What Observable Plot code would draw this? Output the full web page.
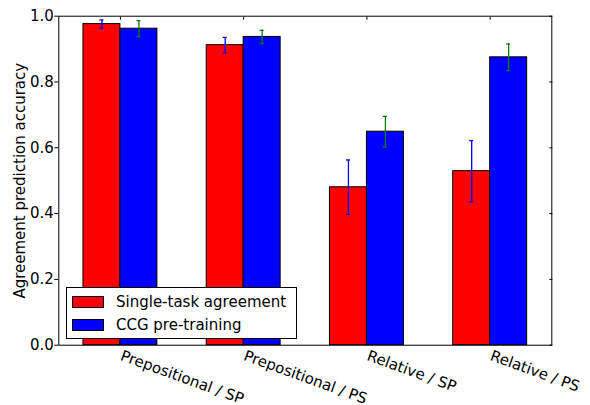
<!DOCTYPE html>
<html>
<head>
<meta charset="utf-8">
<script src="https://cdn.jsdelivr.net/npm/d3@7"></script>
<script src="https://cdn.jsdelivr.net/npm/@observablehq/plot@0.6"></script>
<style>
  html, body { margin: 0; padding: 0; background: #fff; }
  #wrap { position: relative; width: 590px; height: 405px; font-family: "DejaVu Sans", sans-serif; }
  #legend { position: absolute; left: 66px; top: 287px; width: 229px; height: 50px; border: 1px solid #000; background: #fff; box-sizing: content-box; }
  .item { position: absolute; left: 5px; height: 13px; display: flex; align-items: center; font-size: 15px; color: #000; white-space: nowrap; }
  .sw { width: 30px; height: 10px; border: 1px solid #000; margin-right: 12px; flex: none; }
</style>
</head>
<body>
<div id="wrap"></div>
<script>
const categories = ["Prepositional / SP", "Prepositional / PS", "Relative / SP", "Relative / PS"];
const seriesNames = ["Single-task agreement", "CCG pre-training"];
const seriesColors = ["#ff0000", "#0000ff"];
const errColors = ["#0000ff", "#008000"];
const singleTask = [0.976, 0.912, 0.480, 0.529];
const singleTaskErr = [0.0125, 0.0235, 0.083, 0.093];
const ccgPretraining = [0.962, 0.937, 0.649, 0.875];
const ccgPretrainingErr = [0.0245, 0.020, 0.0465, 0.0405];
const yTicks = [0, 0.2, 0.4, 0.6, 0.8, 1.0];
const yLabel = "Agreement prediction accuracy";

const barWidth = 0.3;
const values = [singleTask, ccgPretraining];
const errs = [singleTaskErr, ccgPretrainingErr];
const rows = categories.flatMap((c, i) => [0, 1].map(s => ({
  cat: c, i, s,
  x1: i - barWidth + s * barWidth,
  x2: i + s * barWidth,
  xc: i - barWidth / 2 + s * barWidth,
  v: values[s][i],
  lo: values[s][i] - errs[s][i],
  hi: values[s][i] + errs[s][i]
})));
const ticksX = categories.map((c, i) => ({i, c}));
const fmt = d3.format(".1f");

const chart = Plot.plot({
  width: 590,
  height: 405,
  marginLeft: 58.3,
  marginRight: 38.7,
  marginTop: 15.7,
  marginBottom: 60.3,
  style: { fontFamily: "DejaVu Sans, sans-serif", background: "#fff", overflow: "visible", color: "#000" },
  x: { domain: [-0.5, categories.length - 0.5] },
  y: { domain: [0, 1] },
  marks: [
    Plot.rectY(rows, { x1: "x1", x2: "x2", y1: 0, y2: "v", fill: d => seriesColors[d.s], stroke: "#000", strokeWidth: 1 }),
    Plot.ruleX(rows, { x: "xc", y1: "lo", y2: "hi", stroke: d => errColors[d.s], strokeWidth: 1.3 }),
    Plot.ruleY(rows, { y: "lo", x1: "xc", x2: "xc", insetLeft: -2, insetRight: -2, stroke: d => errColors[d.s], strokeWidth: 1.3 }),
    Plot.ruleY(rows, { y: "hi", x1: "xc", x2: "xc", insetLeft: -2, insetRight: -2, stroke: d => errColors[d.s], strokeWidth: 1.3 }),
    Plot.frame({ stroke: "#000", strokeWidth: 1 }),
    Plot.axisY({ ticks: yTicks, tickSize: 4, tickFormat: () => "", label: null, stroke: "#000" }),
    Plot.text(yTicks, { frameAnchor: "left", y: d => d, text: d => fmt(d), textAnchor: "end", lineAnchor: "middle", dx: -5, fontSize: 15, fill: "#000" }),
    Plot.axisY({ anchor: "right", ticks: yTicks, tickSize: -3, tickFormat: () => "", label: null }),
    Plot.axisX({ anchor: "top", ticks: categories.map((c, i) => i), tickSize: -3, tickFormat: () => "", label: null }),
    Plot.text(ticksX, { x: "i", y: 0, text: "c", rotate: 20, textAnchor: "start", lineAnchor: "top", dx: 2.7, dy: 4.5, fontSize: 15, fill: "#000" }),
    Plot.text([yLabel], { frameAnchor: "left", text: d => d, rotate: -90, textAnchor: "middle", lineAnchor: "middle", dx: -38.8, dy: 0, fontSize: 15, fill: "#000" })
  ]
});
document.getElementById("wrap").appendChild(chart);

const legend = document.createElement("div");
legend.id = "legend";
seriesNames.forEach((name, k) => {
  const item = document.createElement("div");
  item.className = "item";
  item.style.top = (k === 0 ? 7 : 30) + "px";
  const sw = document.createElement("div");
  sw.className = "sw";
  sw.style.background = seriesColors[k];
  const t = document.createElement("span");
  t.textContent = name;
  item.appendChild(sw);
  item.appendChild(t);
  legend.appendChild(item);
});
document.getElementById("wrap").appendChild(legend);
</script>
</body>
</html>
